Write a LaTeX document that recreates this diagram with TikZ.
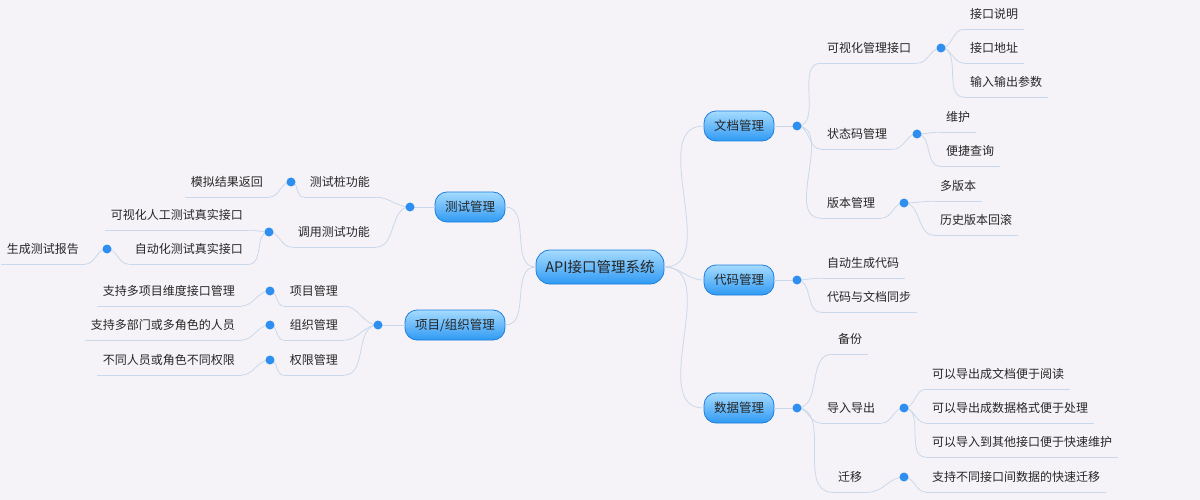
\documentclass[tikz,border=0pt]{standalone}
\usepackage{fontspec}
\setmainfont{Noto Sans CJK SC}
\usetikzlibrary{calc}
\definecolor{bg}{HTML}{F6F3F8}
\definecolor{wire}{HTML}{C9D8EA}
\definecolor{dotc}{HTML}{2F8FF0}
\definecolor{boxtop}{HTML}{A6DBFF}
\definecolor{boxbot}{HTML}{2F9AF4}
\definecolor{boxline}{HTML}{1C7EDD}
\tikzset{
  leaf/.style={inner xsep=6pt, minimum height=30pt, font=\fontsize{12}{14}\selectfont, text=black!85},
  branch/.style={draw=wire, line width=0.8pt},
  topic/.style={draw=boxline, line width=0.8pt, rounded corners=12pt, top color=boxtop, bottom color=boxbot,
    minimum height=30pt, font=\fontsize{12.5}{14}\selectfont, text=black!85},
  knob/.style={fill=dotc}
}
% right and left leaves: name, x, y, text, parent dot
\newcommand\rleaf[5]{
  \node[leaf,anchor=west] (#1) at (#2,#3) {#4};
  \draw[branch] (#1.south west) -- (#1.south east);
  \draw[branch] (#5) to[out=0,in=180] (#1.south west);
}
\newcommand\lleaf[5]{
  \node[leaf,anchor=east] (#1) at (#2,#3) {#4};
  \draw[branch] (#1.south west) -- (#1.south east);
  \draw[branch] (#5) to[out=180,in=0] (#1.south east);
}
\begin{document}
\begin{tikzpicture}[x=1pt,y=-1pt]
\fill[bg] (0,0) rectangle (1200,500);
\useasboundingbox (0,0) rectangle (1200,500);

% topics
\node[topic, minimum width=128pt, minimum height=34pt, rounded corners=14pt,
  font=\fontsize{14.5}{16}\selectfont] (root) at (600,267) {API接口管理系统};
\node[topic, minimum width=70pt] (test) at (470,207) {测试管理};
\node[topic, minimum width=100pt] (proj) at (455,325) {项目/组织管理};
\node[topic, minimum width=70pt] (doc) at (739,126) {文档管理};
\node[topic, minimum width=70pt] (code) at (739,280) {代码管理};
\node[topic, minimum width=70pt] (data) at (739,408) {数据管理};

% dots
\coordinate (dtest) at (410,207);
\coordinate (dproj) at (378,325);
\coordinate (ddoc) at (797,126);
\coordinate (dcode) at (797,280);
\coordinate (ddata) at (797,408);
\coordinate (dview) at (941,48);
\coordinate (dstate) at (917,134);
\coordinate (dver) at (904,203);
\coordinate (dio) at (904,408);
\coordinate (dmig) at (904,477);
\coordinate (dstub) at (291,182);
\coordinate (dcall) at (269,232);
\coordinate (dauto) at (107,249);
\coordinate (dpm) at (270,291);
\coordinate (dom) at (270,325);
\coordinate (drm) at (270,360);

\draw[branch] (root.west) to[out=180,in=0] (test.east);
\draw[branch] (root.west) to[out=180,in=0] (proj.east);
\draw[branch] (root.east) to[out=0,in=180] (doc.west);
\draw[branch] (root.east) to[out=0,in=180] (code.west);
\draw[branch] (root.east) to[out=0,in=180] (data.west);
\draw[branch] (test.west) -- (dtest);
\draw[branch] (proj.west) -- (dproj);
\draw[branch] (doc.east) -- (ddoc);
\draw[branch] (code.east) -- (dcode);
\draw[branch] (data.east) -- (ddata);

% right side
\rleaf{view}{821}{48}{可视化管理接口}{ddoc}
\rleaf{desc}{964}{14}{接口说明}{dview}
\rleaf{addr}{964}{48}{接口地址}{dview}
\rleaf{param}{964}{82}{输入输出参数}{dview}
\rleaf{state}{821}{134}{状态码管理}{ddoc}
\rleaf{keep}{940}{117}{维护}{dstate}
\rleaf{query}{940}{151}{便捷查询}{dstate}
\rleaf{ver}{821}{203}{版本管理}{ddoc}
\rleaf{multi}{934}{186}{多版本}{dver}
\rleaf{roll}{934}{220}{历史版本回滚}{dver}
\rleaf{gen}{821}{263}{自动生成代码}{dcode}
\rleaf{sync}{821}{297}{代码与文档同步}{dcode}
\rleaf{back}{832}{339}{备份}{ddata}
\rleaf{io}{821}{408}{导入导出}{ddata}
\rleaf{exdoc}{926}{374}{可以导出成文档便于阅读}{dio}
\rleaf{exdat}{926}{408}{可以导出成数据格式便于处理}{dio}
\rleaf{imp}{926}{442}{可以导入到其他接口便于快速维护}{dio}
\rleaf{mig}{832}{477}{迁移}{ddata}
\rleaf{migx}{926}{477}{支持不同接口间数据的快速迁移}{dmig}
\draw[branch] (view.south east) to[out=0,in=180] (dview);
\draw[branch] (state.south east) to[out=0,in=180] (dstate);
\draw[branch] (ver.south east) to[out=0,in=180] (dver);
\draw[branch] (io.south east) to[out=0,in=180] (dio);
\draw[branch] (mig.south east) to[out=0,in=180] (dmig);

% left side
\lleaf{stub}{376}{182}{测试桩功能}{dtest}
\lleaf{mock}{269}{182}{模拟结果返回}{dstub}
\lleaf{call}{376}{232}{调用测试功能}{dtest}
\lleaf{manual}{249}{215}{可视化人工测试真实接口}{dcall}
\lleaf{auto}{249}{249}{自动化测试真实接口}{dcall}
\lleaf{report}{85}{249}{生成测试报告}{dauto}
\lleaf{pm}{344}{291}{项目管理}{dproj}
\lleaf{om}{344}{325}{组织管理}{dproj}
\lleaf{rm}{344}{360}{权限管理}{dproj}
\lleaf{pmx}{241}{291}{支持多项目维度接口管理}{dpm}
\lleaf{omx}{241}{325}{支持多部门或多角色的人员}{dom}
\lleaf{rmx}{241}{360}{不同人员或角色不同权限}{drm}
\draw[branch] (stub.south west) to[out=180,in=0] (dstub);
\draw[branch] (call.south west) to[out=180,in=0] (dcall);
\draw[branch] (auto.south west) to[out=180,in=0] (dauto);
\draw[branch] (pm.south west) to[out=180,in=0] (dpm);
\draw[branch] (om.south west) to[out=180,in=0] (dom);
\draw[branch] (rm.south west) to[out=180,in=0] (drm);

\foreach \d in {dtest,dproj,ddoc,dcode,ddata,dview,dstate,dver,dio,dmig,dstub,dcall,dauto,dpm,dom,drm}
  \fill[knob] (\d) circle (4.5pt);
\end{tikzpicture}
\end{document}
